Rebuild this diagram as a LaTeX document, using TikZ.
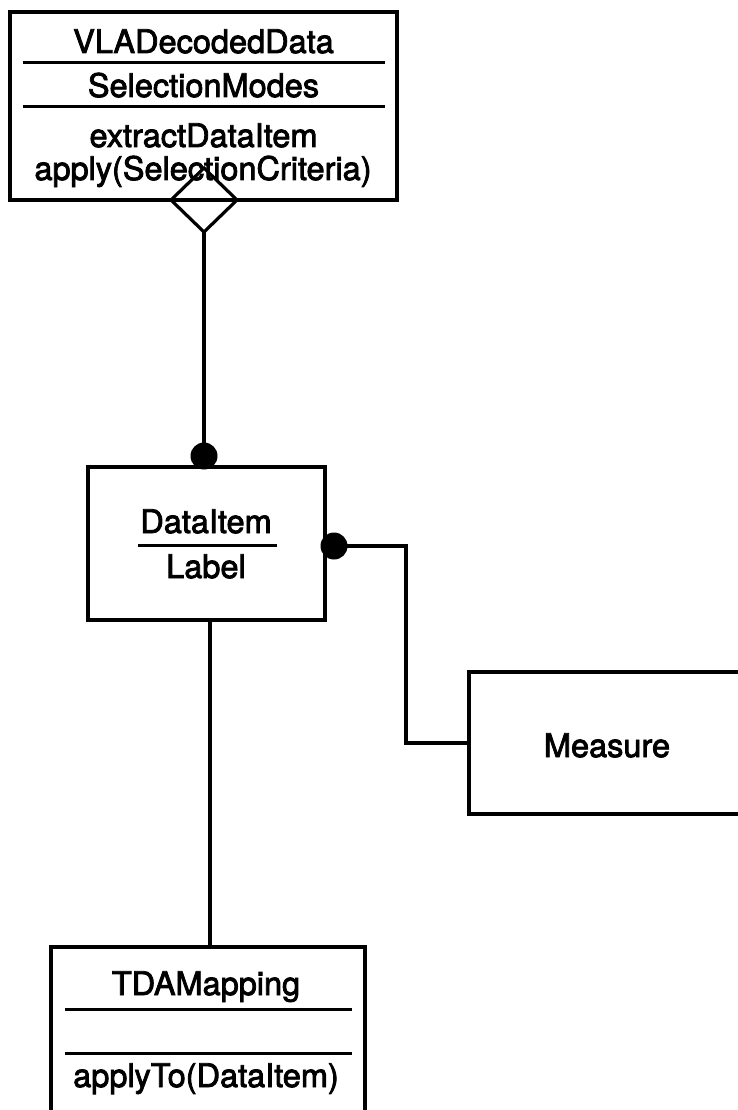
\documentclass[tikz,border=0pt]{standalone}
\usepackage{fontspec}
\newfontfamily\umlfont[FakeBold=2.5]{TeX Gyre Heros}
\usetikzlibrary{shapes.geometric}
\begin{document}
\begin{tikzpicture}[x=1pt,y=-1pt,
  box/.style={draw,line width=3.6pt,rectangle,inner sep=0pt,outer sep=0pt},
  txt/.style={anchor=base,inner sep=0pt,font=\umlfont\fontsize{32.5}{38}\selectfont},
  sep/.style={line width=3pt},
  conn/.style={line width=3.2pt},
  dot/.style={circle,fill=black,inner sep=0pt,minimum size=27pt,outer sep=0pt},
  agg/.style={diamond,draw,line width=3.2pt,inner sep=0pt,outer sep=0pt,minimum width=66pt,minimum height=64pt}]
\useasboundingbox (0,0) rectangle (738,1110);
\clip (0,0) rectangle (738,1110);
% VLADecodedData
\node[box,minimum width=387pt,minimum height=188pt] (vla) at (203.5,106) {};
\node[txt] (vlaname) at (203.5,53) {VLADecodedData};
\draw[sep] (23,63) -- (385,63);
\node[txt] (vlaattr) at (203.5,97) {SelectionModes};
\draw[sep] (23,107) -- (385,107);
\node[txt] (vlaop1) at (203.5,147) {extractDataItem};
\node[txt] (vlaop2) at (203,180) {apply(SelectionCriteria)};
\node[agg] (dia) at (204,200) {};
% DataItem
\node[box,minimum width=237pt,minimum height=153pt] (data) at (206.5,543.5) {};
\node[txt] (dataname) at (206,533) {DataItem};
\draw[sep] (138,545) -- (277,545);
\node[txt] (datalabel) at (206,578) {Label};
\node[dot] (dot1) at (204,456) {};
\node[dot] (dot2) at (334,546) {};
% Measure
\node[box,minimum width=276pt,minimum height=142pt] (meas) at (607,743) {};
\node[txt] (meastxt) at (607,757) {Measure};
% TDAMapping
\node[box,minimum width=314pt,minimum height=183pt] (tda) at (208,1038.5) {};
\node[txt] (tdaname) at (206,995) {TDAMapping};
\draw[sep] (65,1009) -- (352,1009);
\draw[sep] (65,1053) -- (352,1053);
\node[txt] (tdaop) at (206,1087) {applyTo(DataItem)};
% connectors
\coordinate (bend) at (406,600);
\draw[conn] (dia.south) -- (dot1.center);
\draw[conn] (dot2.center) -| (bend) |- (meas.west);
\draw[conn] ([xshift=3.5pt]data.south) -- ([xshift=3.5pt]data.south |- tda.north);
\end{tikzpicture}
\end{document}
